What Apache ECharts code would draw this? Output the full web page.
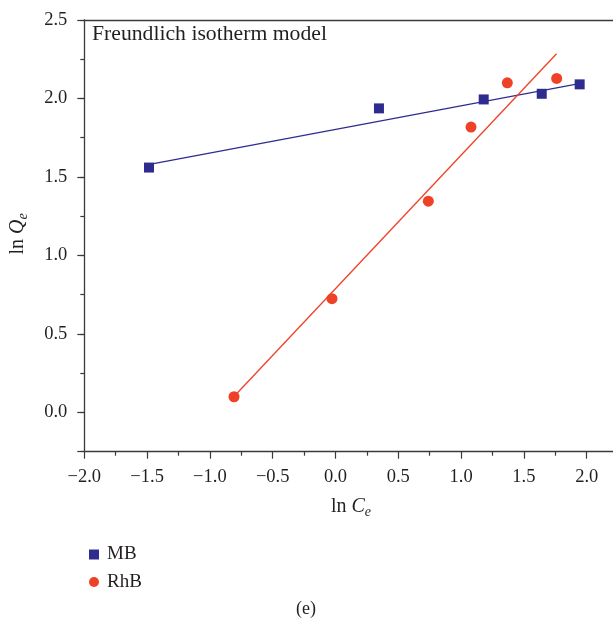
<!DOCTYPE html>
<html><head><meta charset="utf-8">
<script src="https://cdn.jsdelivr.net/npm/echarts@6/dist/echarts.min.js"></script>
<style>html,body{margin:0;padding:0;overflow:hidden;background:#fff;width:613px;height:626px}#c{width:660px;height:626px}</style>
</head><body><div id="c"></div>
<script>
// ---- data ----
const seriesNames = ['MB', 'RhB'];
const mbX = [-1.485, 0.346, 1.18, 1.642, 1.944];
const mbY = [1.56, 1.937, 1.994, 2.03, 2.09];
const rhbX = [-0.808, -0.028, 0.739, 1.079, 1.368, 1.761];
const rhbY = [0.10, 0.725, 1.346, 1.818, 2.10, 2.128];
const mbFitX = [-1.48, 1.94];
const mbFitY = [1.58, 2.095];
const rhbFitX = [-0.81, 1.76];
const rhbFitY = [0.10, 2.285];
const xTickLabels = [-2.0, -1.5, -1.0, -0.5, 0.0, 0.5, 1.0, 1.5, 2.0];
const yTickLabels = [0.0, 0.5, 1.0, 1.5, 2.0, 2.5];
const titleText = 'Freundlich isotherm model';
const panelLabel = '(e)';

const FONT = 'Liberation Serif';
const TXT = '#231f20';
const AX = '#3a3a3a';
const BLUE = '#2f2c8f';
const RED = '#ef4126';

function zip(xs, ys) { return xs.map((x, i) => [x, ys[i]]); }
function fmt(list) {
  return function (v) {
    const hit = list.find(t => Math.abs(t - v) < 1e-6);
    if (hit === undefined) return '';
    return hit.toFixed(1).replace('-', '\u2212');
  };
}

const chart = echarts.init(document.getElementById('c'), null, {renderer: 'canvas', width: 660, height: 626});
chart.setOption({
  animation: false,
  backgroundColor: '#fff',
  grid: {left: 84.3, top: 20, right: 10.5, bottom: 174.3, containLabel: false},
  xAxis: [{
    type: 'value', min: -2, max: 2.5, interval: 0.5, position: 'bottom',
    axisLine: {show: true, onZero: false, lineStyle: {color: AX, width: 1.3}},
    axisTick: {show: true, inside: false, length: 7, lineStyle: {color: AX, width: 1.2}},
    minorTick: {show: true, splitNumber: 2, length: 4, lineStyle: {color: AX, width: 1.2}},
    splitLine: {show: false}, minorSplitLine: {show: false},
    axisLabel: {fontFamily: FONT, fontSize: 18.5, color: TXT, margin: 16, formatter: fmt(xTickLabels)}
  }, {
    type: 'value', min: -2, max: 2.5, position: 'top',
    axisLine: {show: true, onZero: false, lineStyle: {color: AX, width: 1.3}},
    axisTick: {show: false}, axisLabel: {show: false}, splitLine: {show: false}
  }],
  yAxis: [{
    type: 'value', min: -0.25, max: 2.5, splitNumber: 5, position: 'left',
    axisLine: {show: true, onZero: false, lineStyle: {color: AX, width: 1.3}},
    axisTick: {show: true, inside: false, length: 7, lineStyle: {color: AX, width: 1.2}},
    splitLine: {show: false},
    axisLabel: {fontFamily: FONT, fontSize: 18.5, color: TXT, margin: 17, formatter: fmt(yTickLabels)}
  }, {
    type: 'value', min: -0.25, max: 2.5, interval: 0.25, position: 'left',
    axisLine: {show: false, onZero: false},
    axisTick: {show: true, inside: false, length: 4, lineStyle: {color: AX, width: 1.2}},
    axisLabel: {show: false}, splitLine: {show: false}
  }],
  legend: {
    data: [{name: seriesNames[0], icon: 'rect'}, {name: seriesNames[1], icon: 'circle'}],
    orient: 'vertical', left: 84, top: 539.5,
    itemWidth: 10, itemHeight: 10, itemGap: 7.5,
    textStyle: {fontFamily: FONT, fontSize: 19, color: TXT, lineHeight: 20, padding: [0, 0, 0, 3]}
  },
  series: [
    {type: 'line', name: 'MB fit', data: zip(mbFitX, mbFitY), symbol: 'none', silent: true,
     lineStyle: {color: BLUE, width: 1.3}, z: 2},
    {type: 'line', name: 'RhB fit', data: zip(rhbFitX, rhbFitY), symbol: 'none', silent: true,
     lineStyle: {color: RED, width: 1.3}, z: 2},
    {type: 'scatter', name: seriesNames[0], data: zip(mbX, mbY), symbol: 'rect', symbolSize: 10,
     itemStyle: {color: BLUE, opacity: 1}, z: 3},
    {type: 'scatter', name: seriesNames[1], data: zip(rhbX, rhbY), symbol: 'circle', symbolSize: 11,
     itemStyle: {color: RED, opacity: 1}, z: 3}
  ],
  graphic: [
    {type: 'text', x: 92, y: 34, style: {text: titleText, font: '21.7px "Liberation Serif"', fill: TXT, verticalAlign: 'middle', align: 'left'}},
    {type: 'text', x: 351, y: 507, style: {
      text: '{n|ln }{i|C}{s|e}', align: 'center', verticalAlign: 'middle', fill: TXT,
      rich: {
        n: {fontFamily: FONT, fontSize: 20, lineHeight: 24, fill: TXT},
        i: {fontFamily: FONT, fontSize: 20, fontStyle: 'italic', lineHeight: 24, fill: TXT},
        s: {fontFamily: FONT, fontSize: 14, fontStyle: 'italic', lineHeight: 24, padding: [10, 0, 0, 0], fill: TXT}
      }}},
    {type: 'text', x: 18, y: 234, rotation: Math.PI / 2, style: {
      text: '{n|ln }{i|Q}{s|e}', align: 'center', verticalAlign: 'middle', fill: TXT,
      rich: {
        n: {fontFamily: FONT, fontSize: 20, lineHeight: 24, fill: TXT},
        i: {fontFamily: FONT, fontSize: 20, fontStyle: 'italic', lineHeight: 24, fill: TXT},
        s: {fontFamily: FONT, fontSize: 14, fontStyle: 'italic', lineHeight: 24, padding: [10, 0, 0, 0], fill: TXT}
      }}},
    {type: 'text', x: 306, y: 609, style: {text: panelLabel, font: '18px "Liberation Serif"', fill: TXT, align: 'center', verticalAlign: 'middle'}}
  ]
});
</script></body></html>
